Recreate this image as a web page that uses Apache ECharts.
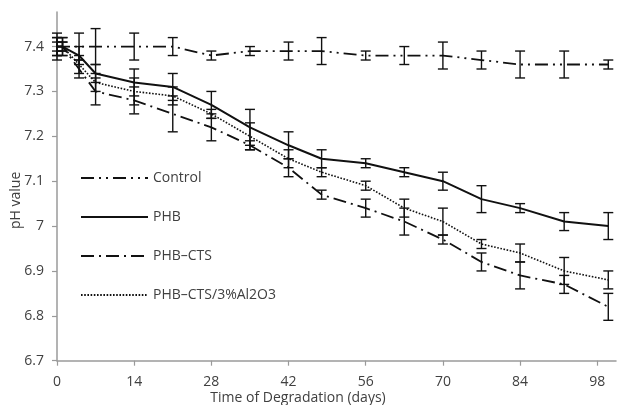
<!DOCTYPE html>
<html>
<head>
<meta charset="utf-8">
<script src="https://cdn.jsdelivr.net/npm/echarts@6/dist/echarts.min.js"></script>
<style>
html,body{margin:0;padding:0;background:#fff;}
#c{width:617px;height:405px;}
</style>
</head>
<body>
<div id="c"></div>
<script>
// ---- data ----
const days = [0, 1, 4, 7, 14, 21, 28, 35, 42, 48, 56, 63, 70, 77, 84, 92, 100];

const controlPH  = [7.40, 7.40, 7.40, 7.40, 7.40, 7.40, 7.38, 7.39, 7.39, 7.39, 7.38, 7.38, 7.38, 7.37, 7.36, 7.36, 7.36];
const controlErr = [0.03, 0.02, 0.03, 0.04, 0.03, 0.02, 0.01, 0.01, 0.02, 0.03, 0.01, 0.02, 0.03, 0.02, 0.03, 0.03, 0.01];

const phbPH  = [7.40, 7.40, 7.38, 7.34, 7.32, 7.31, 7.27, 7.22, 7.18, 7.15, 7.14, 7.12, 7.10, 7.06, 7.04, 7.01, 7.00];
const phbErr = [0.02, 0.01, 0.02, 0.02, 0.03, 0.03, 0.03, 0.04, 0.03, 0.02, 0.01, 0.01, 0.02, 0.03, 0.01, 0.02, 0.03];

const ctsPH  = [7.40, 7.40, 7.35, 7.30, 7.28, 7.25, 7.22, 7.18, 7.13, 7.07, 7.04, 7.01, 6.97, 6.92, 6.89, 6.87, 6.82];
const ctsErr = [0.01, 0.02, 0.02, 0.03, 0.03, 0.04, 0.03, 0.01, 0.02, 0.01, 0.02, 0.03, 0.01, 0.02, 0.03, 0.02, 0.03];

const alPH  = [7.40, 7.40, 7.36, 7.32, 7.30, 7.29, 7.25, 7.20, 7.15, 7.12, 7.09, 7.04, 7.01, 6.96, 6.94, 6.90, 6.88];
const alErr = [0.02, 0.01, 0.02, 0.02, 0.03, 0.02, 0.01, 0.03, 0.02, 0.01, 0.01, 0.02, 0.03, 0.01, 0.02, 0.03, 0.02];

const seriesNames = ['Control', 'PHB', 'PHB\u2013CTS', 'PHB\u2013CTS/3%Al2O3'];
const xTicks = [0, 14, 28, 42, 56, 70, 84, 98];
const yTicks = [6.7, 6.8, 6.9, 7.0, 7.1, 7.2, 7.3, 7.4];

// ---- chart ----
const chart = echarts.init(document.getElementById('c'), null, {renderer: 'canvas'});
const FONT = '"Open Sans", "Liberation Sans", sans-serif';
const TXT = '#404040';
const AX = '#9a9a9a';

function pts(vals) { return days.map((d, i) => [d, vals[i]]); }
function errs(vals, e) { return days.map((d, i) => [d, +(vals[i] - e[i]).toFixed(3), +(vals[i] + e[i]).toFixed(3)]); }

function errRender(params, api) {
  const x = api.value(0), lo = api.value(1), hi = api.value(2);
  const pTop = api.coord([x, hi]);
  const pBot = api.coord([x, lo]);
  const hw = 5;
  const st = {stroke: '#111', lineWidth: 1.4, fill: null};
  return {
    type: 'group',
    children: [
      {type: 'line', shape: {x1: pTop[0], y1: pTop[1], x2: pBot[0], y2: pBot[1]}, style: st},
      {type: 'line', shape: {x1: pTop[0] - hw, y1: pTop[1], x2: pTop[0] + hw, y2: pTop[1]}, style: st},
      {type: 'line', shape: {x1: pBot[0] - hw, y1: pBot[1], x2: pBot[0] + hw, y2: pBot[1]}, style: st}
    ]
  };
}

const lineStyles = [
  {color: '#111', width: 1.8, type: [13, 5, 2, 5, 2, 5], cap: 'butt'},
  {color: '#111', width: 2, type: 'solid'},
  {color: '#111', width: 1.8, type: [13, 5, 2, 5], cap: 'butt'},
  {color: '#111', width: 1.6, type: [1.6, 1.6], cap: 'butt'}
];
const vals = [controlPH, phbPH, ctsPH, alPH];
const errArr = [controlErr, phbErr, ctsErr, alErr];

const series = [];
vals.forEach((v, k) => {
  series.push({
    name: seriesNames[k], type: 'line', data: pts(v),
    symbol: 'none', showSymbol: false, smooth: false,
    lineStyle: lineStyles[k], itemStyle: {color: '#111'},
    z: 2, silent: true
  });
});
vals.forEach((v, k) => {
  series.push({
    type: 'custom', name: 'err' + k, data: errs(v, errArr[k]),
    renderItem: errRender, encode: {x: 0, y: [1, 2]}, z: 3, silent: true
  });
});

chart.setOption({
  animation: false,
  backgroundColor: '#fff',
  grid: {left: 57, right: 1, top: 12, bottom: 44.3, containLabel: false, outerBoundsMode: 'none'},
  legend: {
    data: seriesNames,
    orient: 'vertical', left: 80, top: 171, padding: 0,
    itemWidth: 67, itemHeight: 14, itemGap: 25,
    itemStyle: {opacity: 0},
    textStyle: {fontFamily: FONT, fontSize: 14, color: TXT},
    selectedMode: false
  },
  xAxis: {
    type: 'value', min: 0, max: 101.4, interval: 14,
    name: 'Time of Degradation (days)', nameLocation: 'middle', nameGap: 30, nameMoveOverlap: false,
    nameTextStyle: {fontFamily: FONT, fontSize: 14, color: TXT, padding: [0, 77, 0, 0]},
    axisLine: {show: true, lineStyle: {color: AX, width: 1.5}},
    axisTick: {show: true, inside: false, length: 5, lineStyle: {color: AX, width: 1.2}, customValues: xTicks},
    axisLabel: {fontFamily: FONT, fontSize: 14, color: TXT, margin: 14, customValues: xTicks},
    splitLine: {show: false}
  },
  yAxis: {
    type: 'value', min: 6.7, max: 7.477, interval: 0.1,
    name: 'pH value', nameLocation: 'middle', nameGap: 34, nameMoveOverlap: false,
    nameTextStyle: {fontFamily: FONT, fontSize: 14, color: TXT, padding: [0, 28, 0, 0]},
    axisLine: {show: true, lineStyle: {color: AX, width: 1.5}},
    axisTick: {show: true, inside: false, length: 5, lineStyle: {color: AX, width: 1.2}, customValues: yTicks},
    axisLabel: {fontFamily: FONT, fontSize: 14, color: TXT, margin: 13, customValues: yTicks,
      formatter: v => String(+(+v).toFixed(1))},
    splitLine: {show: false}
  },
  series: series
});
</script>
</body>
</html>
